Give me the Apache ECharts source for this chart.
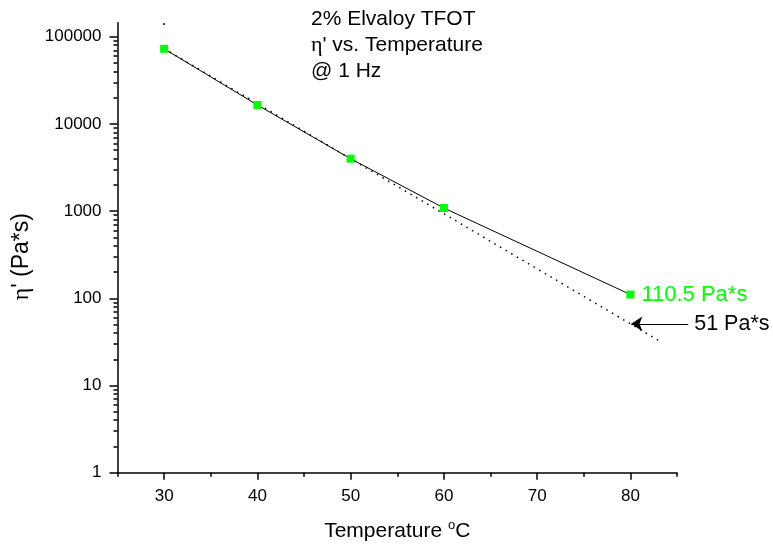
<!DOCTYPE html>
<html>
<head>
<meta charset="utf-8">
<script src="https://cdn.jsdelivr.net/npm/echarts@6/dist/echarts.min.js"></script>
<style>
  html, body { margin: 0; padding: 0; background: #fff; }
  #chart { width: 773px; height: 548px; }
</style>
</head>
<body>
<div id="chart"></div>
<script>
// Dynamic viscosity of 2% Elvaloy TFOT binder at 1 Hz
const temps = [30, 40, 50, 60, 80];                 // °C
const viscosity = [72800, 16500, 3990, 1086, 110.5]; // Pa*s

// Log-linear fit of the 30–60 °C points, extended to 83 °C
const fitTemps = [30, 80, 83];
const fitVisc = [73000, 51, 33];

// Stray plotter dot above the first point
const strayDot = [[30, 140000]];

// Arrow pointing at the fitted value at 80 °C
const arrowFrom = [86.2, 51];
const arrowTo = [80.1, 51];

const xMajor = [30, 40, 50, 60, 70, 80];
const xMinor = [25, 35, 45, 55, 65, 75, 85];
const yMajor = [1, 10, 100, 1000, 10000, 100000];
const yMinor = [];
for (let d = 1; d <= 10000; d *= 10) {
  for (let m = 2; m <= 9; m++) yMinor.push(m * d);
}

const FONT = '"Liberation Sans", Arial, sans-serif';
const SERIF = '"Liberation Serif", serif';
const GREEN = '#00ff00';

const chart = echarts.init(document.getElementById('chart'), null, { renderer: 'canvas' });

const baseX = { type: 'value', min: 25, max: 85, gridIndex: 0 };
const baseY = { type: 'log', logBase: 10, min: 1, max: 145000, gridIndex: 0 };

chart.setOption({
  animation: false,
  backgroundColor: '#fff',
  textStyle: { fontFamily: FONT },
  title: {
    left: 306,
    top: 1,
    text: '2% Elvaloy TFOT\n{g|η}\' vs. Temperature\n@ 1 Hz',
    textStyle: {
      fontFamily: FONT, fontSize: 21, fontWeight: 'normal', color: '#000', lineHeight: 26,
      rich: { g: { fontFamily: SERIF, fontSize: 22, color: '#000', lineHeight: 26 } }
    }
  },
  grid: { left: 117.5, right: 96, top: 22.7, bottom: 75.3, containLabel: false },
  xAxis: [
    Object.assign({}, baseX, {
      position: 'bottom',
      name: '{t|Temperature }{s|o}{t|C}',
      nameLocation: 'middle',
      nameGap: 46,
      nameTextStyle: {
        rich: {
          t: { fontFamily: FONT, fontSize: 21, color: '#000' },
          s: { fontFamily: FONT, fontSize: 13, color: '#000', padding: [0, 0, 12, 0] }
        }
      },
      axisLine: { show: true, lineStyle: { color: '#000', width: 1.5 } },
      axisTick: { show: true, length: 7, lineStyle: { color: '#000', width: 1.5 }, customValues: xMajor },
      axisLabel: { show: true, customValues: xMajor, margin: 15, fontSize: 17, color: '#000', fontFamily: FONT },
      splitLine: { show: false }
    }),
    Object.assign({}, baseX, {
      position: 'bottom',
      axisLine: { show: false },
      axisTick: { show: true, length: 4, lineStyle: { color: '#000', width: 1.5 }, customValues: xMinor },
      axisLabel: { show: false },
      splitLine: { show: false }
    })
  ],
  yAxis: [
    Object.assign({}, baseY, {
      position: 'left',
      name: '{g|η}\' (Pa*s)',
      nameLocation: 'middle',
      nameRotate: 90,
      nameGap: 68,
      nameTextStyle: {
        fontFamily: FONT, fontSize: 23, color: '#000', padding: [0, 18, 0, 0],
        rich: { g: { fontFamily: SERIF, fontSize: 24, color: '#000' } }
      },
      axisLine: { show: true, lineStyle: { color: '#000', width: 1.5 } },
      axisTick: { show: true, length: 8, lineStyle: { color: '#000', width: 1.5 }, customValues: yMajor },
      axisLabel: { show: true, customValues: yMajor, margin: 16, fontSize: 17, color: '#000', fontFamily: FONT,
        formatter: v => String(Math.round(v)) },
      splitLine: { show: false }
    }),
    Object.assign({}, baseY, {
      position: 'left',
      axisLine: { show: false },
      axisTick: { show: true, length: 4, lineStyle: { color: '#000', width: 1.5 }, customValues: yMinor },
      axisLabel: { show: false },
      splitLine: { show: false }
    })
  ],
  series: [
    {
      name: 'fit',
      type: 'line',
      data: fitTemps.map((t, i) => [t, fitVisc[i]]),
      showSymbol: false,
      symbol: 'none',
      lineStyle: { color: '#000', width: 1.5, type: [1.5, 5], cap: 'butt' },
      z: 2
    },
    {
      name: 'measured',
      type: 'line',
      data: temps.map((t, i) => [t, viscosity[i]]),
      symbol: 'rect',
      symbolSize: 8,
      lineStyle: { color: '#000', width: 1 },
      itemStyle: { color: GREEN, borderWidth: 0 },
      label: {
        show: true,
        position: 'right',
        distance: 7,
        fontFamily: FONT,
        fontSize: 22,
        color: GREEN,
        formatter: p => p.dataIndex === temps.length - 1 ? viscosity[p.dataIndex] + ' Pa*s' : ''
      },
      z: 3
    },
    {
      name: 'stray',
      type: 'scatter',
      data: strayDot,
      symbol: 'rect',
      symbolSize: 2,
      itemStyle: { color: '#000' },
      z: 2
    },
    {
      name: 'arrow',
      type: 'lines',
      coordinateSystem: 'cartesian2d',
      clip: false,
      polyline: false,
      symbol: ['none', 'arrow'],
      symbolSize: [9, 11],
      lineStyle: { color: '#000', width: 1.2, opacity: 1, curveness: 0 },
      label: {
        show: true,
        position: 'start',
        distance: 6,
        fontFamily: FONT,
        fontSize: 21.5,
        color: '#000',
        formatter: () => arrowTo[1] + ' Pa*s'
      },
      data: [{ coords: [arrowFrom, arrowTo] }],
      z: 4
    }
  ]
});
</script>
</body>
</html>
